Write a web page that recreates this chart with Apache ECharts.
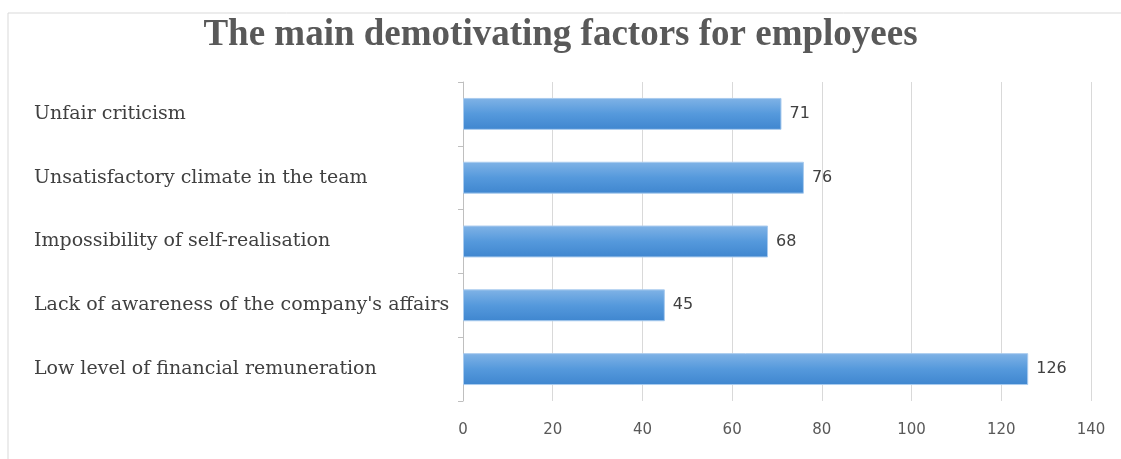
<!DOCTYPE html>
<html>
<head>
<meta charset="utf-8">
<style>
  html, body { margin: 0; padding: 0; background: #fff; }
  #chart { width: 1121px; height: 459px; }
</style>
<script src="https://cdn.jsdelivr.net/npm/echarts@6/dist/echarts.min.js"></script>
</head>
<body>
<div id="chart"></div>
<script>
// categories listed bottom to top (category axis on y starts at the bottom)
const factors = [
  'Low level of financial remuneration',
  "Lack of awareness of the company's affairs",
  'Impossibility of self-realisation',
  'Unsatisfactory climate in the team',
  'Unfair criticism'
]
const counts = [126, 45, 68, 76, 71]
const xTicks = [0, 20, 40, 60, 80, 100, 120, 140]

const chart = echarts.init(document.getElementById('chart'))

chart.setOption({
  animation: false,
  title: {
    text: 'The main demotivating factors for employees',
    left: 'center',
    top: 12,
    textStyle: {
      fontFamily: 'Liberation Serif',
      fontWeight: 'bold',
      fontSize: 37,
      color: '#595959'
    }
  },
  graphic: [
    {
      type: 'rect',
      shape: { x: 8, y: 13, width: 1200, height: 500 },
      style: { fill: 'none', stroke: '#d9d9d9', lineWidth: 1 },
      silent: true
    }
  ],
  grid: {
    left: 463,
    right: 30,
    top: 82,
    bottom: 58
  },
  xAxis: {
    type: 'value',
    min: xTicks[0],
    max: xTicks[xTicks.length - 1],
    interval: 20,
    axisLine: { show: false },
    axisTick: { show: false },
    axisLabel: {
      margin: 22,
      fontFamily: 'DejaVu Sans',
      fontSize: 15,
      color: '#595959'
    },
    splitLine: { lineStyle: { color: '#d9d9d9', width: 1 } }
  },
  yAxis: {
    type: 'category',
    data: factors,
    axisLine: { lineStyle: { color: '#bfbfbf' } },
    axisTick: { show: true, length: 5, lineStyle: { color: '#bfbfbf' } },
    axisLabel: {
      align: 'left',
      margin: 429,
      fontFamily: 'DejaVu Serif',
      fontSize: 19,
      color: '#404040'
    }
  },
  series: [
    {
      type: 'bar',
      data: counts,
      barWidth: '50%',
      itemStyle: {
        color: new echarts.graphic.LinearGradient(0, 0, 0, 1, [
          { offset: 0, color: '#80b3e6' },
          { offset: 0.5, color: '#5599dc' },
          { offset: 1, color: '#3f86cf' }
        ]),
        borderColor: '#a9cbee',
        borderWidth: 1
      },
      label: {
        show: true,
        position: 'right',
        distance: 8,
        fontFamily: 'DejaVu Sans',
        fontSize: 16,
        color: '#404040'
      }
    }
  ]
})
</script>
</body>
</html>
